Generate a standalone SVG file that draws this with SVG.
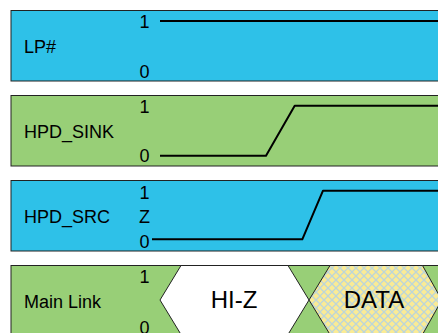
<svg xmlns="http://www.w3.org/2000/svg" width="438" height="333" viewBox="0 0 438 333">
<defs>
<pattern id="lattice" width="8" height="8" patternUnits="userSpaceOnUse">
<rect width="8" height="8" fill="#FBEB94"/>
<path d="M0 0 L8 8 M8 0 L0 8" stroke="#BCD5D9" stroke-width="1.3"/>
</pattern>
<style>
.blue{fill:#2EC1E8;stroke:#222;stroke-width:1}
.green{fill:#98CF77;stroke:#222;stroke-width:1}
.lbl{font-family:"Liberation Sans",Arial,sans-serif;font-size:18px;fill:#000}
.lvl{font-family:"Liberation Sans",Arial,sans-serif;font-size:18px;fill:#000;text-anchor:middle}
.big{font-family:"Liberation Sans",Arial,sans-serif;font-size:24px;fill:#000;text-anchor:middle}
.wave{fill:none;stroke:#000;stroke-width:2;stroke-linejoin:round}
.hex{stroke:#222;stroke-width:1}
</style>
</defs>
<rect width="438" height="333" fill="#fff"/>
<g id="lp">
<rect class="blue" x="11" y="10.5" width="440" height="70.5"/>
<text class="lbl" x="24" y="53">LP#</text>
<text class="lvl" x="144.5" y="28">1</text>
<text class="lvl" x="144.5" y="77.5">0</text>
</g>
<g id="hpd_sink">
<rect class="green" x="11" y="95.5" width="440" height="70.5"/>
<text class="lbl" x="24" y="138">HPD_SINK</text>
<text class="lvl" x="144.5" y="113">1</text>
<text class="lvl" x="144.5" y="162">0</text>
</g>
<g id="hpd_src">
<rect class="blue" x="11" y="180.5" width="440" height="70.5"/>
<text class="lbl" x="24" y="223">HPD_SRC</text>
<text class="lvl" x="144.5" y="199">1</text>
<text class="lvl" x="144.5" y="223">Z</text>
<text class="lvl" x="144.5" y="247.5">0</text>
</g>
<g id="main_link">
<rect class="green" x="11" y="265.5" width="440" height="80"/>
<text class="lbl" x="24" y="308">Main Link</text>
<text class="lvl" x="144.5" y="283">1</text>
<text class="lvl" x="144.5" y="334">0</text>
<polygon id="hiz" class="hex" fill="#fff" points="160,300 181,265.5 288,265.5 309,300 288,334.5 181,334.5"/>
<text class="big" x="234" y="308">HI-Z</text>
<polygon id="data" class="hex" fill="url(#lattice)" points="309,300 330,265.5 422.5,265.5 439,295 439,305 422.5,334.5 330,334.5"/>
<text class="big" x="374" y="308">DATA</text>
</g>
<g id="connectors">
<polyline class="wave" points="160,21 440,21"/>
<polyline class="wave" points="160,155.7 266,155.7 294.7,105.7 440,105.7"/>
<polyline class="wave" points="152,239.3 302.3,239.3 323,190.7 440,190.7"/>
</g>
</svg>
